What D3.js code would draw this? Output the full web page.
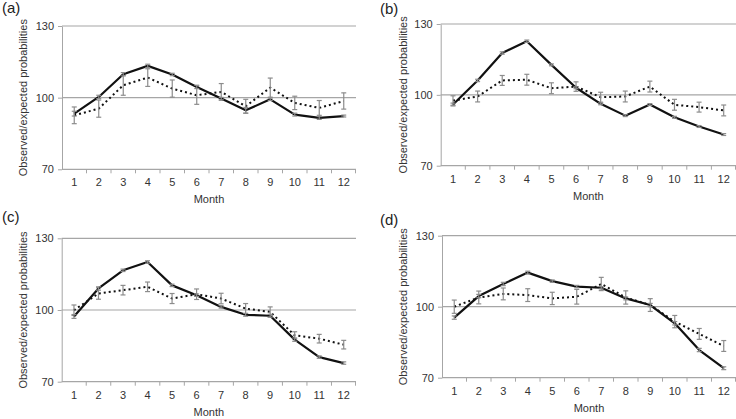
<!DOCTYPE html>
<html>
<head>
<meta charset="utf-8">
<script src="https://cdn.jsdelivr.net/npm/d3@7"></script>
<style>
  body { margin: 0; background: #fff; }
  svg { display: block; font-family: "Liberation Sans", Arial, sans-serif; }
</style>
</head>
<body>
<div id="chart"></div>
<script>
const months = ["1", "2", "3", "4", "5", "6", "7", "8", "9", "10", "11", "12"]
const yTicks = [70, 100, 130]

// (a)
const aSolid = [93.3, 100.3, 109.8, 113.3, 109.7, 104.5, 99.6, 94.7, 99.3, 92.9, 91.5, 92.3]
const aSolidErr = [1.0, 0.7, 0.7, 0.7, 0.5, 0.7, 0.5, 1.2, 0.5, 0.6, 0.6, 0.4]
const aDotted = [92.6, 95.4, 105.2, 108.4, 103.8, 101.0, 102.4, 96.4, 104.2, 97.8, 95.7, 98.6]
const aDottedErr = [3.5, 3.6, 4.2, 3.7, 3.6, 3.8, 3.5, 2.9, 4.0, 2.8, 3.1, 3.4]

// (b)
const bSolid = [95.9, 106.1, 117.7, 122.7, 112.7, 103.0, 96.2, 91.2, 95.9, 90.5, 86.6, 83.2]
const bSolidErr = [0.6, 0.5, 0.5, 0.5, 0.4, 0.4, 0.4, 0.4, 0.4, 0.4, 0.4, 0.4]
const bDotted = [97.6, 99.3, 106.1, 106.4, 102.8, 103.5, 99.0, 99.3, 103.5, 95.8, 94.8, 93.4]
const bDottedErr = [2.0, 2.3, 2.1, 2.3, 2.3, 2.0, 2.1, 2.3, 2.3, 2.3, 2.1, 2.3]

// (c)
const cSolid = [97.3, 109.0, 116.6, 120.1, 110.3, 106.2, 101.3, 98.0, 97.6, 87.6, 80.3, 77.8]
const cSolidErr = [0.8, 0.7, 0.5, 0.5, 0.5, 0.5, 0.5, 0.6, 0.6, 0.7, 0.5, 0.5]
const cDotted = [99.9, 106.9, 108.3, 109.7, 104.8, 106.6, 104.8, 100.6, 99.2, 89.4, 88.0, 85.5]
const cDottedErr = [2.2, 2.4, 2.0, 2.0, 2.1, 2.2, 2.2, 2.1, 2.1, 1.5, 1.8, 1.8]

// (d)
const dSolid = [95.4, 104.5, 109.6, 114.4, 110.8, 108.5, 108.0, 103.5, 100.7, 93.0, 81.7, 74.0]
const dSolidErr = [0.7, 0.7, 0.7, 0.6, 0.5, 0.5, 0.5, 0.6, 0.7, 0.7, 0.7, 0.6]
const dDotted = [100.0, 103.9, 105.4, 104.9, 103.5, 104.2, 109.6, 103.9, 100.7, 93.7, 88.5, 83.4]
const dDottedErr = [2.8, 2.7, 2.5, 2.7, 2.6, 3.1, 2.8, 2.8, 2.7, 2.6, 2.3, 2.3]

const width = 736
const height = 419

const svg = d3.select("#chart")
    .append("svg")
    .attr("width", width)
    .attr("height", height)

const panels = [
    { tag: "(a)", tagX: 2, tagY: 13, labelX: 23, left: 62, right: 356, top: 26, bottom: 169.3,
      solid: aSolid, solidErr: aSolidErr, dotted: aDotted, dottedErr: aDottedErr },
    { tag: "(b)", tagX: 380, tagY: 14, labelX: 403, left: 440.7, right: 736, top: 24, bottom: 165.7,
      solid: bSolid, solidErr: bSolidErr, dotted: bDotted, dottedErr: bDottedErr },
    { tag: "(c)", tagX: 2, tagY: 222, labelX: 23, left: 61.7, right: 356, top: 238.3, bottom: 381.7,
      solid: cSolid, solidErr: cSolidErr, dotted: cDotted, dottedErr: cDottedErr },
    { tag: "(d)", tagX: 380, tagY: 225, labelX: 403, left: 442, right: 736, top: 235.7, bottom: 377.7,
      solid: dSolid, solidErr: dSolidErr, dotted: dDotted, dottedErr: dDottedErr },
]

panels.forEach(p => draw_panel(p))

function draw_panel(p) {
    const x = d3.scaleBand().domain(months).range([p.left, p.right])
    const y = d3.scaleLinear().domain([70, 130]).range([p.bottom, p.top])
    const cx = m => x(m) + x.bandwidth() / 2

    // gridlines
    svg.append("g")
        .selectAll("line")
        .data(yTicks.slice(1))
        .join("line")
        .attr("x1", p.left)
        .attr("x2", p.right)
        .attr("y1", d => y(d))
        .attr("y2", d => y(d))
        .attr("stroke", "#a6a6a6")
        .attr("stroke-width", 1.2)

    // y axis
    svg.append("g")
        .attr("transform", `translate(${p.left},0)`)
        .call(d3.axisLeft(y).tickValues(yTicks).tickSize(4).tickPadding(4).tickSizeOuter(0))
        .call(g => g.selectAll("line, path").attr("stroke", "#a6a6a6"))
        .call(g => g.selectAll("text").attr("fill", "#333").style("font-size", "11px"))
        .call(g => g.select(".domain").attr("stroke-width", 1))

    // x axis: ticks between categories
    const xAxis = svg.append("g")
        .attr("transform", `translate(0,${p.bottom})`)
    xAxis.append("line")
        .attr("x1", p.left)
        .attr("x2", p.right)
        .attr("stroke", "#a6a6a6")
        .attr("stroke-width", 1.2)
    xAxis.selectAll("line.tk")
        .data(months.slice(1).concat(["end"]))
        .join("line")
        .attr("class", "tk")
        .attr("x1", d => d === "end" ? p.right - 0.5 : x(d))
        .attr("x2", d => d === "end" ? p.right - 0.5 : x(d))
        .attr("y1", 0)
        .attr("y2", 4)
        .attr("stroke", "#a6a6a6")
    xAxis.selectAll("text")
        .data(months)
        .join("text")
        .attr("x", d => cx(d))
        .attr("y", 17)
        .attr("text-anchor", "middle")
        .attr("fill", "#333")
        .style("font-size", "11px")
        .text(d => d)

    // axis titles
    svg.append("text")
        .attr("x", (p.left + p.right) / 2)
        .attr("y", p.bottom + 34)
        .attr("text-anchor", "middle")
        .attr("fill", "#333")
        .style("font-size", "11px")
        .text("Month")

    svg.append("text")
        .attr("transform", `translate(${p.labelX + 4},${(p.top + p.bottom) / 2}) rotate(-90)`)
        .attr("text-anchor", "middle")
        .attr("fill", "#333")
        .style("font-size", "11px")
        .text("Observed/expected probabilities")

    svg.append("text")
        .attr("x", p.tagX)
        .attr("y", p.tagY)
        .attr("fill", "#222")
        .style("font-size", "15px")
        .text(p.tag)

    const line = d3.line()
        .x((d, i) => cx(months[i]))
        .y(d => y(d))

    // error bars
    const errorBars = (vals, errs) => {
        const g = svg.append("g").attr("stroke", "#8c8c8c").attr("stroke-width", 1.2)
        months.forEach((m, i) => {
            const hi = y(vals[i] + errs[i])
            const lo = y(vals[i] - errs[i])
            g.append("line").attr("x1", cx(m)).attr("x2", cx(m)).attr("y1", hi).attr("y2", lo)
            g.append("line").attr("x1", cx(m) - 2.5).attr("x2", cx(m) + 2.5).attr("y1", hi).attr("y2", hi)
            g.append("line").attr("x1", cx(m) - 2.5).attr("x2", cx(m) + 2.5).attr("y1", lo).attr("y2", lo)
        })
    }

    svg.append("path")
        .datum(p.dotted)
        .attr("fill", "none")
        .attr("stroke", "#111")
        .attr("stroke-width", 2)
        .attr("stroke-dasharray", "2,3")
        .attr("d", line)
    errorBars(p.dotted, p.dottedErr)

    svg.append("path")
        .datum(p.solid)
        .attr("fill", "none")
        .attr("stroke", "#111")
        .attr("stroke-width", 2.2)
        .attr("stroke-linejoin", "round")
        .attr("d", line)
    errorBars(p.solid, p.solidErr)
}
</script>
</body>
</html>
